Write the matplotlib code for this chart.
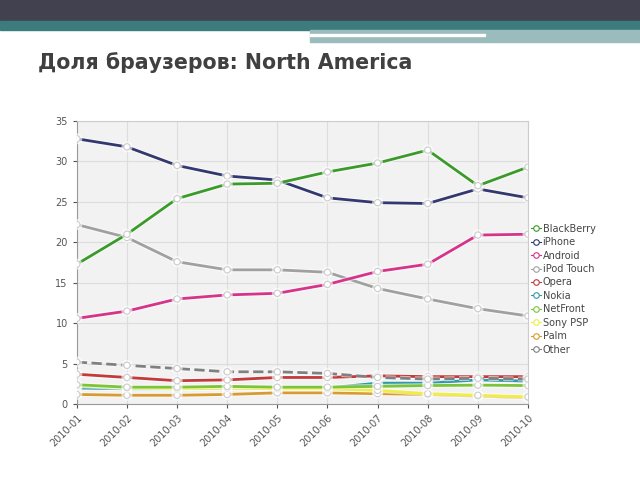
import matplotlib
matplotlib.use("Agg")
import matplotlib.pyplot as plt
import matplotlib.patheffects as pe
from matplotlib.patches import Rectangle
from matplotlib.lines import Line2D

months = ["2010-01", "2010-02", "2010-03", "2010-04", "2010-05",
          "2010-06", "2010-07", "2010-08", "2010-09", "2010-10"]

blackberry = [17.3, 21.0, 25.4, 27.2, 27.3, 28.7, 29.8, 31.4, 27.0, 29.3]
iphone     = [32.8, 31.8, 29.5, 28.2, 27.7, 25.5, 24.9, 24.8, 26.6, 25.5]
android    = [10.6, 11.5, 13.0, 13.5, 13.7, 14.8, 16.4, 17.3, 20.9, 21.0]
ipod       = [22.2, 20.6, 17.6, 16.6, 16.6, 16.3, 14.3, 13.0, 11.8, 10.9]
opera      = [3.7, 3.3, 2.9, 3.0, 3.3, 3.3, 3.5, 3.4, 3.4, 3.4]
nokia      = [2.0, 1.9, 1.9, 2.0, 2.0, 2.0, 2.6, 2.6, 3.0, 2.85]
netfront   = [2.4, 2.1, 2.1, 2.2, 2.1, 2.1, 2.2, 2.3, 2.35, 2.3]
sonypsp    = [2.3, 2.0, 1.9, 2.0, 1.9, 1.9, 1.7, 1.3, 1.1, 0.9]
palm       = [1.2, 1.1, 1.1, 1.2, 1.4, 1.4, 1.3, 1.2, 1.0, 0.8]
other      = [5.2, 4.8, 4.4, 4.0, 4.0, 3.8, 3.3, 3.1, 3.2, 3.1]

names = ["BlackBerry", "iPhone", "Android", "iPod Touch", "Opera",
         "Nokia", "NetFront", "Sony PSP", "Palm", "Other"]
series = [blackberry, iphone, android, ipod, opera,
          nokia, netfront, sonypsp, palm, other]
colors = ["#3a9a2a", "#33386e", "#d6338a", "#a0a0a0", "#c23a3a",
          "#2f9aa8", "#7cc43a", "#eeee44", "#d99a30", "#808080"]
# drawing order, bottom first
layer = [5, 8, 7, 6, 4, 9, 3, 2, 1, 0]

fig = plt.figure(figsize=(6.4, 4.8), dpi=100)

# slide header
fig.patches.append(Rectangle((0, 1 - 21/480), 1, 21/480, transform=fig.transFigure,
                             color="#41414f", zorder=0))
fig.patches.append(Rectangle((0, 1 - 30/480), 1, 9/480, transform=fig.transFigure,
                             color="#3d7c7c", zorder=0))
fig.patches.append(Rectangle((310/640, 1 - 42/480), 1, 12/480, transform=fig.transFigure,
                             color="#9bbcbc", zorder=0))
fig.patches.append(Rectangle((310/640, 1 - 36/480), 175/640, 2/480, transform=fig.transFigure,
                             color="white", zorder=1))

fig.text(38/640, 1 - 63/480, "Доля браузеров: North America", fontsize=14.8,
         color="#404040", fontweight="bold", va="center", ha="left")

ax = fig.add_axes([0.120, 0.158, 0.705, 0.59])
ax.set_facecolor("#f2f2f2")
x = list(range(len(months)))

for z, i in enumerate(layer):
    ls = "--" if names[i] == "Other" else "-"
    ax.plot(x, series[i], color=colors[i], lw=2, ls=ls, marker="o", ms=4.5,
            mfc="white", mec="#cccccc", mew=0.8, zorder=3 + z,
            path_effects=[pe.Stroke(linewidth=3.5, foreground="#ffffff", alpha=0.6), pe.Normal()])

ax.set_xlim(0, 9)
ax.set_ylim(0, 35)
ax.set_yticks(range(0, 36, 5))
ax.set_xticks(x)
ax.set_xticklabels(months, rotation=45, ha="right", rotation_mode="anchor")
ax.tick_params(labelsize=7, colors="#555555", length=3)
ax.grid(True, color="#dddddd", lw=0.8)
ax.set_axisbelow(True)
for s in ["top", "right"]:
    ax.spines[s].set_color("#cccccc")
for s in ["left", "bottom"]:
    ax.spines[s].set_color("#999999")

leg_h = [Line2D([0], [0], color=colors[i], lw=0.8, marker="o", ms=4, mfc="white",
                mec=colors[i], mew=0.8) for i in range(len(names))]
leg = fig.legend(leg_h, names, loc="upper left", bbox_to_anchor=(527/640, 1 - 220/480),
                 frameon=False, fontsize=7, handlelength=1.0, handletextpad=0.2,
                 labelspacing=0.35, borderaxespad=0)
for t in leg.get_texts():
    t.set_color("#444444")

fig.savefig("out.png", dpi=100)
